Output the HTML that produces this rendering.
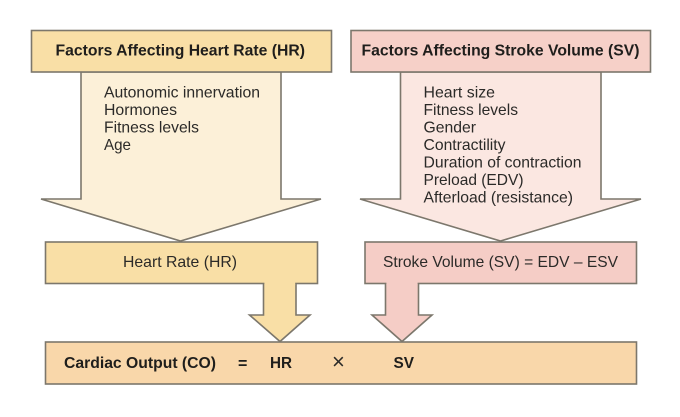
<!DOCTYPE html>
<html>
<head>
<meta charset="utf-8">
<style>
html,body{margin:0;padding:0;background:#fff;width:680px;height:417px;overflow:hidden}
svg{display:block;filter:blur(0.35px)}
text{font-family:"Liberation Sans",sans-serif;fill:#2b2a28;font-size:16px}
.b{font-weight:bold;fill:#1f1e1c;font-size:16px}
.s{stroke:#7c776c;stroke-width:1.6;stroke-linejoin:miter}
</style>
</head>
<body>
<svg width="680" height="417" viewBox="0 0 680 417" xmlns="http://www.w3.org/2000/svg">
<!-- big arrows -->
<polygon class="s" fill="#fcf0d8" points="81,72 281,72 281,199 321,199 180.5,241 41,199 81,199"/>
<polygon class="s" fill="#fbe7e1" points="400.5,72 601,72 601,199 641,199 500.5,241 360,199 400.5,199"/>
<!-- header boxes -->
<rect class="s" x="31.5" y="30.5" width="300" height="41.5" fill="#f9dfa6"/>
<rect class="s" x="351" y="30.5" width="299.5" height="41.5" fill="#f6d0c8"/>
<!-- small arrows -->
<polygon class="s" fill="#f9dfa6" points="263.5,283 296,283 296,315 310,315 280,341.5 249.5,315 263.5,315"/>
<polygon class="s" fill="#f5cdc6" points="385.5,283 418.5,283 418.5,315 432,315 402,341.5 372,315 385.5,315"/>
<!-- middle boxes -->
<rect class="s" x="45.5" y="242" width="272" height="41.5" fill="#f9dfa6"/>
<rect class="s" x="365" y="242" width="271.5" height="41.5" fill="#f5cdc6"/>
<!-- redraw shaft joins -->
<rect x="264.4" y="282" width="30.8" height="3" fill="#f9dfa6"/>
<rect x="386.4" y="282" width="31.2" height="3" fill="#f5cdc6"/>
<!-- bottom box -->
<rect class="s" x="45.5" y="342" width="591" height="42" fill="#f9d7aa"/>

<text class="b" x="55.5" y="55.5" textLength="249.5" lengthAdjust="spacingAndGlyphs">Factors Affecting Heart Rate (HR)</text>
<text class="b" x="361.5" y="55.5" textLength="278" lengthAdjust="spacingAndGlyphs">Factors Affecting Stroke Volume (SV)</text>

<text x="104" y="97.5" textLength="156" lengthAdjust="spacingAndGlyphs">Autonomic innervation</text>
<text x="104" y="115" textLength="73" lengthAdjust="spacingAndGlyphs">Hormones</text>
<text x="104" y="132.5" textLength="95" lengthAdjust="spacingAndGlyphs">Fitness levels</text>
<text x="104" y="150" textLength="27" lengthAdjust="spacingAndGlyphs">Age</text>

<text x="423.5" y="97.5" textLength="71.5" lengthAdjust="spacingAndGlyphs">Heart size</text>
<text x="423.5" y="115" textLength="94.5" lengthAdjust="spacingAndGlyphs">Fitness levels</text>
<text x="423.5" y="132.5" textLength="52.5" lengthAdjust="spacingAndGlyphs">Gender</text>
<text x="423.5" y="150" textLength="82" lengthAdjust="spacingAndGlyphs">Contractility</text>
<text x="423.5" y="167.5" textLength="158" lengthAdjust="spacingAndGlyphs">Duration of contraction</text>
<text x="423.5" y="185" textLength="100" lengthAdjust="spacingAndGlyphs">Preload (EDV)</text>
<text x="423.5" y="202.5" textLength="149.5" lengthAdjust="spacingAndGlyphs">Afterload (resistance)</text>

<text x="123" y="267" textLength="114" lengthAdjust="spacingAndGlyphs">Heart Rate (HR)</text>
<text x="383" y="267" textLength="235" lengthAdjust="spacingAndGlyphs">Stroke Volume (SV) = EDV – ESV</text>

<text class="b" x="64" y="368" textLength="152" lengthAdjust="spacingAndGlyphs">Cardiac Output (CO)</text>
<text class="b" x="238" y="368.5">=</text>
<text class="b" x="270" y="368" textLength="22" lengthAdjust="spacingAndGlyphs">HR</text>
<text x="332" y="369" style="font-size:22px">×</text>
<text class="b" x="393.5" y="368" textLength="20.5" lengthAdjust="spacingAndGlyphs">SV</text>
</svg>
</body>
</html>
